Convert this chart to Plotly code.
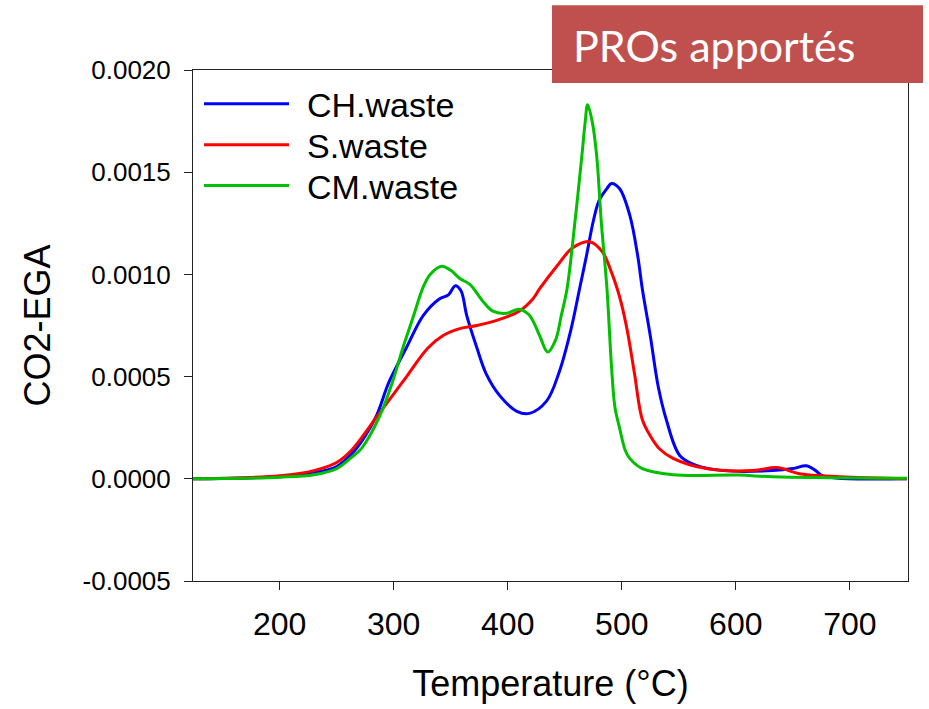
import plotly.graph_objects as go

# ---- data ----
ch_T = [124, 150, 200, 230, 250, 266, 275, 285, 296, 311, 326, 340, 348, 354, 359, 364, 373, 381,
        393, 408, 419, 434, 445, 455, 463, 469, 475, 480, 487, 491, 498, 507, 514, 518, 525, 532,
        539, 551, 566, 589, 632, 650, 662, 670, 676, 690, 750]
ch_v = [0, 0.000002, 0.00001, 0.00003, 0.00006, 0.00014, 0.00021, 0.00031, 0.000475, 0.00064, 0.0008,
        0.00088, 0.0009, 0.000945, 0.00092, 0.0008, 0.00064, 0.000515, 0.000407, 0.00033, 0.00032,
        0.00038, 0.00052, 0.00072, 0.00093, 0.00109, 0.00126, 0.00136, 0.00142, 0.001445, 0.00142,
        0.00129, 0.00109, 0.00093, 0.0007, 0.00045, 0.00029, 0.000113, 0.000064, 0.00004, 0.00004,
        0.00005, 0.000064, 0.00004, 0.000015, 0.000003, 0]

s_T = [124, 150, 200, 230, 250, 263, 286, 308, 330, 343, 358, 373, 393, 410, 422, 428, 443, 457, 472,
       483, 491, 496, 500, 505, 511, 518, 525, 533, 545, 574, 615, 636, 656, 691, 750]
s_v = [0, 0.000003, 0.000015, 0.00004, 0.00008, 0.00014, 0.00031, 0.000475, 0.00064, 0.0007, 0.000735,
       0.00075, 0.00078, 0.00082, 0.00088, 0.00093, 0.00104, 0.00113, 0.00116, 0.00111, 0.00101,
       0.00093, 0.00085, 0.00072, 0.00052, 0.00029, 0.00021, 0.000147, 0.0001, 0.00005, 0.00004,
       0.000055, 0.000025, 0.00001, 0]

cm_T = [124, 150, 200, 230, 250, 262, 272, 288, 299, 308, 317, 326, 332, 342, 350, 358, 367, 378, 387,
        399, 410, 419, 428, 435, 442, 447, 452, 459, 465, 468, 470, 474, 478, 482, 487, 491, 494, 498,
        503, 507, 518, 545, 603, 632, 750]
cm_v = [0, 0.000001, 0.000008, 0.00002, 0.00005, 0.0001, 0.00015, 0.00031, 0.000475, 0.00064, 0.00079,
        0.00094, 0.001, 0.00104, 0.00102, 0.00098, 0.00095, 0.00087, 0.00082, 0.00081, 0.00083,
        0.0008, 0.0007, 0.00062, 0.00068, 0.0008, 0.00093, 0.00126, 0.00158, 0.00175, 0.00183,
        0.00175, 0.00158, 0.00126, 0.00093, 0.00055, 0.00035, 0.00025, 0.00014, 0.0001, 0.00005,
        0.00002, 0.000018, 0.00001, 0.000003]

series_names = ["CH.waste", "S.waste", "CM.waste"]
series_colors = ["#0000FF", "#FF0000", "#00C000"]
x_ticks = [200, 300, 400, 500, 600, 700]
y_ticks = [-0.0005, 0.0, 0.0005, 0.0010, 0.0015, 0.0020]
y_ticktext = ["-0.0005", "0.0000", "0.0005", "0.0010", "0.0015", "0.0020"]
badge_text = "PROs apportés"

FONT = "Liberation Sans, Arial, sans-serif"

fig = go.Figure()
for name, T, v, c in zip(series_names, [ch_T, s_T, cm_T], [ch_v, s_v, cm_v], series_colors):
    fig.add_trace(go.Scatter(x=T, y=v, mode="lines", name=name,
                             line=dict(color=c, width=3, shape="spline", smoothing=1.0),
                             showlegend=False))

# plot-area geometry in pixels (for the hand-made legend)
W, H = 929, 709
L, R, Tm, B = 193, 21, 70, 126
pw, ph = W - L - R, H - Tm - B

def px_x(x):
    return (x - L) / pw

def px_y(y):
    return 1 - (y - Tm) / ph

shapes = []
annotations = []
leg_y = [104, 145, 186]
for name, c, yy in zip(series_names, series_colors, leg_y):
    shapes.append(dict(type="line", xref="paper", yref="paper",
                       x0=px_x(204), x1=px_x(289), y0=px_y(yy), y1=px_y(yy),
                       line=dict(color=c, width=3)))
    annotations.append(dict(text=name, xref="paper", yref="paper", x=px_x(305), y=px_y(yy + 1),
                            xanchor="left", yanchor="middle", showarrow=False,
                            font=dict(family=FONT, size=34, color="black")))

# red badge top-right
shapes.append(dict(type="rect", xref="paper", yref="paper", layer="above",
                   x0=px_x(552), x1=px_x(923), y0=px_y(5), y1=px_y(83),
                   fillcolor="#C0504D", line=dict(width=0)))
annotations.append(dict(text=badge_text, xref="paper", yref="paper", x=px_x(571), y=px_y(45),
                        xanchor="left", yanchor="middle", showarrow=False,
                        font=dict(family="Lato, Open Sans, sans-serif", size=43, color="white")))

fig.update_layout(
    width=W, height=H,
    margin=dict(l=L, r=R, t=Tm, b=B, pad=0),
    paper_bgcolor="white", plot_bgcolor="white",
    shapes=shapes, annotations=annotations,
    font=dict(family=FONT, color="black"),
)
fig.update_xaxes(range=[124, 751], tickvals=x_ticks, ticks="outside", ticklen=8, tickwidth=1,
                 tickcolor="#222", showline=True, linecolor="#222", linewidth=1, mirror=True,
                 showgrid=False, zeroline=False, tickfont=dict(size=32, family=FONT),
                 ticklabelstandoff=7,
                 title=dict(text="Temperature (°C)", font=dict(size=36, family=FONT), standoff=29))
fig.update_yaxes(range=[-0.0005, 0.0020], tickvals=y_ticks, ticktext=y_ticktext, ticks="outside",
                 ticklen=8, tickwidth=1, tickcolor="#222", showline=True, linecolor="#222",
                 linewidth=1, mirror=True, showgrid=False, zeroline=False,
                 tickfont=dict(size=26, family=FONT), ticklabelstandoff=8,
                 title=dict(text="CO2-EGA", font=dict(size=36, family=FONT), standoff=21))

fig.write_html("out.html")
